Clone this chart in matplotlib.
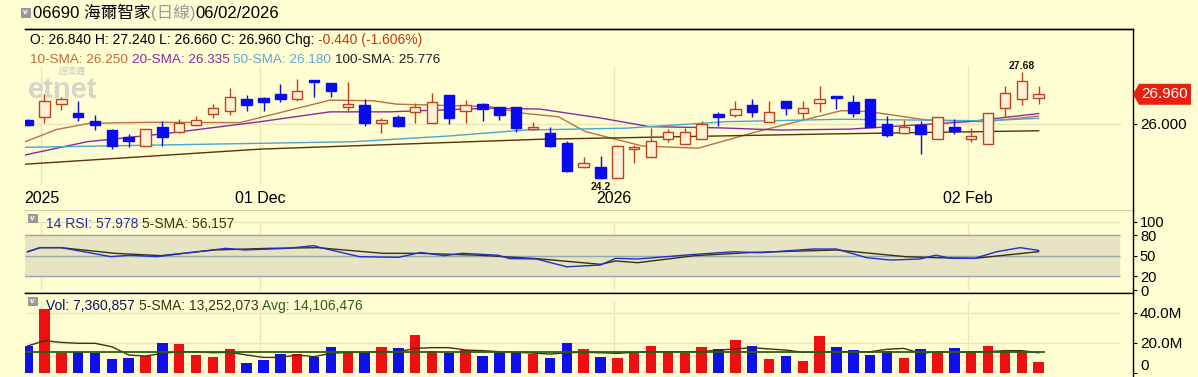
import numpy as np
import matplotlib.pyplot as plt
from matplotlib.patches import Rectangle, Polygon
from matplotlib.transforms import blended_transform_factory

plt.rcParams['font.family'] = ['Liberation Sans', 'Noto Sans CJK TC', 'DejaVu Sans']

W, H = 1198, 377

# daily candles (oldest first)
opens = [26.13, 26.21, 26.65, 26.36, 26.09, 25.80, 25.56, 25.28, 25.89, 25.74,
         25.96, 26.32, 26.43, 26.80, 26.83, 26.97, 26.80, 27.41, 27.34, 26.54,
         26.61, 26.04, 26.21, 26.40, 26.02, 26.94, 26.43, 26.64, 26.54, 26.54,
         25.84, 25.71, 25.37, 24.59, 24.61, 24.23, 25.20, 24.93, 25.50, 25.35,
         25.50, 26.32, 26.29, 26.61, 26.07, 26.75, 26.34, 26.69, 26.90, 26.72,
         26.80, 25.99, 25.69, 25.96, 25.50, 25.89, 25.50, 25.34, 26.51, 26.80, 26.84]
highs = [26.16, 26.97, 26.88, 26.75, 26.29, 25.82, 25.67, 25.82, 26.10, 26.15,
         26.26, 26.65, 27.15, 26.94, 26.88, 27.29, 27.45, 27.41, 27.34, 27.37,
         26.80, 26.18, 26.29, 26.69, 27.01, 26.94, 26.77, 26.69, 26.54, 26.54,
         26.07, 25.91, 25.44, 24.93, 24.96, 25.31, 25.31, 25.86, 25.82, 25.86,
         26.10, 26.40, 26.75, 26.80, 26.75, 26.75, 26.75, 27.23, 26.90, 26.94,
         26.80, 26.26, 26.13, 26.10, 26.21, 26.15, 25.86, 26.36, 27.23, 27.68, 27.24]
lows = [25.93, 26.03, 26.45, 26.10, 25.80, 25.17, 25.26, 25.28, 25.28, 25.69,
        25.93, 26.18, 26.29, 26.43, 26.43, 26.72, 26.75, 26.86, 26.88, 26.40,
        25.93, 25.71, 25.89, 26.04, 26.02, 25.99, 26.02, 26.10, 26.13, 25.75,
        25.80, 25.24, 24.45, 24.56, 24.20, 24.23, 24.74, 24.93, 25.42, 25.35,
        25.50, 25.93, 26.21, 26.21, 26.07, 26.29, 26.15, 26.40, 26.47, 26.21,
        25.89, 25.56, 25.67, 25.02, 25.50, 25.67, 25.42, 25.34, 26.21, 26.61, 26.66]
closes = [25.97, 26.75, 26.80, 26.21, 25.96, 25.28, 25.43, 25.82, 25.56, 26.02,
          26.13, 26.51, 26.88, 26.60, 26.72, 26.82, 27.07, 27.35, 27.08, 26.64,
          26.04, 26.13, 25.93, 26.54, 26.72, 26.18, 26.61, 26.47, 26.29, 25.86,
          25.89, 25.28, 24.48, 24.72, 24.23, 25.28, 25.22, 25.45, 25.75, 25.75,
          26.00, 26.21, 26.47, 26.40, 26.40, 26.51, 26.51, 26.80, 26.83, 26.34,
          25.89, 25.64, 25.91, 25.67, 26.21, 25.78, 25.61, 26.34, 27.01, 27.40, 26.96]

# volume in millions
volumes = [17.8, 42.2, 13.3, 14.0, 13.3, 9.1, 9.8, 11.1, 20.0, 19.1,
           11.8, 10.4, 15.8, 6.7, 8.4, 12.4, 12.4, 10.2, 17.1, 13.3,
           12.9, 17.1, 16.2, 25.1, 14.4, 13.3, 15.1, 11.1, 14.0, 13.8,
           12.4, 9.8, 20.0, 15.8, 10.4, 9.8, 14.0, 17.8, 14.4, 12.9,
           17.1, 15.8, 21.8, 17.8, 9.3, 11.1, 8.0, 24.7, 17.1, 15.1,
           12.0, 14.4, 9.8, 15.8, 14.0, 16.4, 14.0, 17.8, 14.7, 14.7, 7.360857]
vol_sma5 = [17.8, 21.3, 20.2, 19.6, 19.6, 17.3, 11.8, 11.1, 12.9, 14.0,
            14.0, 13.3, 13.6, 11.8, 10.2, 10.2, 11.8, 10.7, 12.9, 13.6,
            13.6, 14.0, 14.0, 16.2, 16.7, 16.7, 15.1, 14.7, 14.0, 13.6,
            13.1, 12.4, 13.3, 13.6, 13.3, 12.9, 13.6, 14.0, 14.0, 14.0,
            14.0, 15.1, 15.8, 16.7, 15.8, 15.1, 13.6, 13.6, 14.0, 14.0,
            14.0, 15.6, 16.2, 12.9, 14.0, 13.3, 14.0, 14.0, 14.7, 14.7, 13.252073]
vol_avg = 14.106476

# moving averages: (bar index, value)
sma10 = [(-0.15, 25.42), (1.74, 25.82), (3.7, 26.02), (7.26, 26.05), (12.6, 26.04),
         (17.95, 26.77), (20.5, 26.75), (21.9, 26.64), (27.4, 26.56), (29.5, 26.34),
         (31.5, 26.23), (33.1, 25.75), (36.5, 25.28), (39.8, 25.21), (43.3, 25.75),
         (48.3, 26.43), (49.9, 26.40), (53.3, 26.13), (56.8, 26.07), (60, 26.250)]
sma20 = [(-0.15, 24.99), (3.53, 25.42), (8.27, 25.69), (13.8, 26.07), (17.95, 26.39),
         (21.5, 26.39), (27.4, 26.51), (30.4, 26.48), (34.0, 26.19), (36.9, 25.91),
         (41.1, 25.87), (44.65, 25.80), (48.8, 25.83), (50.6, 25.89), (55.8, 26.07),
         (60, 26.335)]
sma50 = [(-0.15, 25.24), (7.45, 25.31), (19.3, 25.42), (25.1, 25.61), (29.5, 25.80),
         (35.5, 25.86), (41.4, 26.07), (48.3, 26.15), (56.8, 26.10), (60, 26.180)]
sma100 = [(-0.15, 24.69), (13.8, 25.18), (30.4, 25.50), (47.3, 25.67), (60, 25.776)]

rsi14 = [(0, 56), (0.74, 62), (1.98, 62), (3.35, 56), (4.95, 48.8), (6.08, 51),
         (7.68, 48.8), (9.28, 53.7), (11.77, 61), (12.9, 58.6), (15.4, 61), (17.0, 64.9),
         (17.4, 62), (19.7, 48.8), (22.0, 47.8), (23.35, 55), (24.7, 50.3), (25.8, 53.7),
         (27.9, 51), (28.6, 46), (30.2, 45.4), (32.0, 34), (34.0, 36.6), (34.9, 46.4),
         (36.2, 45.4), (39.6, 52.2), (41.9, 56), (43.5, 54.6), (46.6, 60), (48.0, 60),
         (49.8, 47.3), (51.2, 43.9), (52.96, 45.4), (53.9, 51), (54.8, 46.4), (56.2, 46.4),
         (57.5, 56), (58.9, 62), (60, 57.978)]
rsi_sma5 = [(0, 56), (0.74, 62), (1.98, 62), (5.2, 53.7), (7.9, 50.3), (11.1, 58.6),
            (14.3, 61), (17.2, 62), (21.1, 53.7), (23.3, 53.7), (26.7, 51), (30.2, 46),
            (34.0, 37.6), (34.9, 42.5), (36.2, 40), (39.6, 50.3), (43.0, 55), (48.0, 58.6),
            (52.1, 48.8), (53.9, 47.3), (56.2, 46.4), (60, 56.157)]

dates = ['2025', '01 Dec', '2026', '02 Feb']
date_idx = [1, 14, 35, 56]

BG = '#fffdd2'
UP_EDGE = '#c2401c'
UP_FILL = '#fdf1d6'
DOWN = '#0a0af0'
GRID = '#ebe5b6'
N = len(closes)
idx = np.arange(N)

fig = plt.figure(figsize=(W / 100, H / 100), dpi=100, facecolor=BG)


def box(top, bottom):
    return [25 / W, 1 - bottom / H, (1133 - 25) / W, (bottom - top) / H]


ax = fig.add_axes(box(29.3, 210.7), facecolor=BG)
ax_rsi = fig.add_axes(box(210.7, 293.3), facecolor=BG, sharex=ax)
ax_vol = fig.add_axes(box(293.3, 377), facecolor=BG, sharex=ax)

ax.set_xlim(-0.154, 65.6)
ax.set_ylim(23.181, 29.07)
ax_rsi.set_ylim(-4.8, 116.1)
ax_vol.set_ylim(-2.87, 52.93)

for a in (ax, ax_rsi, ax_vol):
    a.spines['left'].set_visible(False)
    a.yaxis.tick_right()
    a.tick_params(axis='y', length=3, width=0.8, pad=2, labelsize=11, colors='black')
    a.tick_params(axis='x', bottom=False, labelbottom=False)
    for s in a.spines.values():
        s.set_linewidth(1.0)
ax_rsi.spines['top'].set_visible(False)
ax_vol.spines['bottom'].set_visible(False)

# grids
xg = [d - 0.18 for d in date_idx]
ax.vlines(xg, 24.0, 27.9, color=GRID, lw=1, zorder=0)
ax.axhline(26.0, xmax=0.988, color=GRID, lw=1, zorder=0)
ax_rsi.vlines(xg, 0, 100, color=GRID, lw=1, zorder=0)
ax_vol.vlines(xg, 0, 48, color=GRID, lw=1, zorder=0)
ax_vol.hlines([20, 40], -0.154, 64.8, color=GRID, lw=1, zorder=0)
ax_rsi.hlines(100, -0.154, 64.8, color=GRID, lw=1, zorder=0)

# candles
for i in idx:
    o, h, l, c = opens[i], highs[i], lows[i], closes[i]
    up = c >= o
    col = UP_EDGE if up else DOWN
    ax.vlines(i, l, h, color=col, lw=1, zorder=3)
    hgt = max(abs(c - o), 0.035)
    ax.add_patch(Rectangle((i - 0.31, min(o, c)), 0.62, hgt,
                           facecolor=UP_FILL if up else DOWN, edgecolor=col,
                           lw=1, zorder=4))

for pts, col in ((sma10, '#b87048'), (sma20, '#8a2aa0'), (sma50, '#4fa6c8'),
                 (sma100, '#5a3208')):
    xs, ys = zip(*pts)
    ax.plot(xs, ys, color=col, lw=1, zorder=2)

# high / low marks
lo = int(np.argmin(lows))
hi = int(np.argmax(highs))
ax.text(lo, lows[lo] - 0.1, f'{lows[lo]:g}', ha='center', va='top',
        fontsize=7.5, fontweight='bold', color='#201008', zorder=5)
ax.text(hi, highs[hi] + 0.05, f'{highs[hi]:.2f}', ha='center', va='bottom',
        fontsize=7.5, fontweight='bold', color='#201008', zorder=5)

# date labels
for d, lab in zip(date_idx, dates):
    ax.text(d - 0.18, 0.07, lab, transform=blended_transform_factory(ax.transData, ax.transAxes),
            ha='center', va='center', fontsize=11.5, color='black')

ax.set_yticks([26.0])
ax.set_yticklabels(['26.000'])

# last price marker
tr = blended_transform_factory(ax.transAxes, ax.transData)
c = closes[-1]
hh = 10.5 / 30.8
ax.add_patch(Polygon([(1.0, c), (6 / 1108 + 1, c + hh), (1 + 58 / 1108, c + hh),
                      (1 + 58 / 1108, c - hh), (1 + 6 / 1108, c - hh)],
                     closed=True, transform=tr, facecolor='#e8200f', edgecolor='none',
                     clip_on=False, zorder=6))
ax.text(1 + 32 / 1108, c, f'{c:.3f}', transform=tr, ha='center', va='center',
        color='white', fontsize=11, zorder=7, clip_on=False)

# RSI panel
ax_rsi.axhspan(20, 80, xmin=0, xmax=0.987, color='#e7e4c3', zorder=0)
ax_rsi.hlines([20, 50, 80], -0.154, 64.8, color='#9aa6ac', lw=1, zorder=1)
xs, ys = zip(*rsi14)
ax_rsi.plot(xs, ys, color='#2030c8', lw=1, zorder=3)
xs, ys = zip(*rsi_sma5)
ax_rsi.plot(xs, ys, color='#3a3010', lw=1, zorder=2)
ax_rsi.set_yticks([0, 20, 50, 80, 100])
ax_rsi.set_yticklabels(['0', '20', '50', '80', '100'])
ax_rsi.tick_params(axis='y', labelsize=10.5)

# volume panel
vcols = ['#ee1010' if closes[i] >= opens[i] else '#1010ee' for i in idx]
ax_vol.bar(idx, volumes, width=0.62, color=vcols, zorder=2)
ax_vol.plot(idx, vol_sma5, color='#403014', lw=1, zorder=3)
ax_vol.axhline(vol_avg, xmax=(60.3 + 0.154) / 65.754, color='#2e5e10', lw=1.3, zorder=3)
ax_vol.set_yticks([0, 20, 40])
ax_vol.set_yticklabels(['0', '20.0M', '40.0M'])
ax_vol.get_yticklabels()[0].set_va('bottom')

# header texts
fig.canvas.draw()
rend = fig.canvas.get_renderer()


def put(x, y, parts, size, gap=True):
    for s, col in parts:
        t = fig.text(x / W, 1 - y / H, s, color=col, fontsize=size, va='center', ha='left')
        x += t.get_window_extent(rend).width
        if gap:
            x += 0.278 * size / 72 * 100


def icon(x, y):
    fig.add_artist(Rectangle((x / W, 1 - (y + 8) / H), 9 / W, 8 / H, transform=fig.transFigure,
                             facecolor='#9c9c9c', edgecolor='#808080', lw=0.5))
    fig.text((x + 4.5) / W, 1 - (y + 4.2) / H, 'v', color='white', fontsize=6,
             ha='center', va='center', fontweight='bold')


icon(21, 8.5)
put(33, 13, [('06690 海爾智家', 'black'), ('(日線)', '#9a9a9a'), ('06/02/2026', 'black')],
    12, gap=False)
fig.add_artist(plt.Line2D([25 / W, 1133 / W], [1 - 29.3 / H] * 2, color='black', lw=1))

chg = closes[-1] - closes[-2]
put(30, 40, [(f'O: {opens[-1]:.3f} H: {highs[-1]:.3f} L: {lows[-1]:.3f} '
              f'C: {closes[-1]:.3f} Chg:', 'black'),
             (f'{chg:.3f} ({chg / closes[-2] * 100:.3f}%)', '#c03a10')], 10)
put(30, 60, [(f'10-SMA: {sma10[-1][1]:.3f}', '#c06a40'),
             (f'20-SMA: {sma20[-1][1]:.3f}', '#8a2aa0'),
             (f'50-SMA: {sma50[-1][1]:.3f}', '#62a6d0'),
             (f'100-SMA: {sma100[-1][1]:.3f}', '#202020')], 9.7)

icon(28, 214)
put(46, 224, [(f'14 RSI: {rsi14[-1][1]:.3f}', '#2030b0'),
              (f'5-SMA: {rsi_sma5[-1][1]:.3f}', '#403010')], 10)
icon(28, 297)
put(46, 306, [(f'Vol: {int(round(volumes[-1] * 1e6)):,}', '#101060'),
              (f'5-SMA: {int(round(vol_sma5[-1] * 1e6)):,}', '#403010'),
              (f'Avg: {int(round(vol_avg * 1e6)):,}', '#2e5e10')], 10)

# watermark
fig.text(63 / W, 1 - 90 / H, 'etnet', color='#c8c8c8', fontsize=21, fontweight='bold',
         ha='center', va='center', alpha=0.75)
fig.text(72 / W, 1 - 72 / H, '經濟通', color='#c8c8c8', fontsize=6.5, ha='center', va='center')

fig.savefig('out.png', dpi=100, facecolor=BG)
